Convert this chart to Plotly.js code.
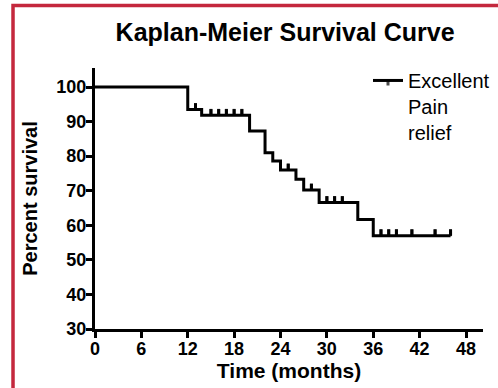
<!DOCTYPE html>
<html><head><meta charset="utf-8">
<script src="https://cdn.plot.ly/plotly-3.0.1.min.js"></script>
<style>html,body{margin:0;padding:0;background:#fff}#chart{width:498px;height:388px}</style>
</head><body><div id="chart"></div><script>
// Kaplan-Meier data (months, percent survival)
const eventTimes    = [0, 12, 13.8, 20, 22, 23, 24, 26, 27, 29, 34, 36];
const eventSurvival = [100, 93.5, 91.8, 87.3, 81.0, 78.6, 76.0, 73.3, 70.2, 66.6, 61.7, 57.0];
const censorTimes   = [13, 15, 16, 17, 18, 19, 25, 28, 30, 31, 32, 37, 38, 39, 41, 44, 46];
const xTicks = [0, 6, 12, 18, 24, 30, 36, 42, 48];
const yTicks = [30, 40, 50, 60, 70, 80, 90, 100];
const seriesName = "Excellent<br>Pain<br>relief";

function survivalAt(t) {
  let s = eventSurvival[0];
  for (let i = 0; i < eventTimes.length; i++) if (eventTimes[i] <= t) s = eventSurvival[i];
  return s;
}
const allTimes = eventTimes.concat(censorTimes).sort((a, b) => a - b);
const allSurv = allTimes.map(survivalAt);
const isCensor = allTimes.map(t => censorTimes.includes(t));
const sizes = isCensor.map(c => c ? 5 : 0);
const tickUp = isCensor.map(c => c ? 1.8 : 0);

const FONT = "Liberation Sans, Arial, sans-serif";
const trace = {
  x: allTimes, y: allSurv, type: "scatter", mode: "lines+markers",
  name: seriesName,
  line: {shape: "hv", color: "#000", width: 3},
  marker: {symbol: "line-ns", size: sizes, angle: 180, standoff: 3, color: "#000", line: {color: "#000", width: 3}},
  error_y: {type: "data", symmetric: false, array: tickUp, arrayminus: tickUp.map(() => 0),
            width: 0, thickness: 3, color: "#000"},
  cliponaxis: false
};

const layout = {
  width: 498, height: 388,
  margin: {l: 95, r: 15, t: 68, b: 59, autoexpand: false},
  paper_bgcolor: "#fff", plot_bgcolor: "#fff",
  font: {family: FONT, color: "#000"},
  title: {text: "<b>Kaplan-Meier Survival Curve</b>", font: {size: 25, family: FONT, color: "#000"},
          x: 0.49, xref: "paper", xanchor: "center", y: 0.9175, yref: "container", yanchor: "middle"},
  xaxis: {
    range: [0, 50.2], tickvals: xTicks, ticktext: xTicks.map(String),
    showline: true, linecolor: "#000", linewidth: 3, mirror: false,
    ticks: "outside", ticklen: 6, tickwidth: 3, tickcolor: "#000",
    ticklabelstandoff: -5,
    showgrid: false, zeroline: false,
    tickfont: {size: 18, family: FONT, color: "#000", weight: "bold"},
    title: {text: "<b>Time (months)</b>", font: {size: 21, family: FONT, color: "#000"}, standoff: 0}
  },
  yaxis: {
    range: [30, 105.5], tickvals: yTicks, ticktext: yTicks.map(String),
    showline: true, linecolor: "#000", linewidth: 3,
    ticks: "outside", ticklen: 6, tickwidth: 3, tickcolor: "#000",
    ticklabelstandoff: -4,
    showgrid: false, zeroline: false,
    tickfont: {size: 18, family: FONT, color: "#000", weight: "bold"},
    title: {text: "<b>Percent survival</b>", font: {size: 20, family: FONT, color: "#000"}, standoff: 14}
  },
  showlegend: true,
  legend: {x: 0.7036, xanchor: "left", y: 1.027, yanchor: "top", valign: "top",
           font: {size: 20, family: FONT, color: "#000"}, bgcolor: "rgba(0,0,0,0)", tracegroupgap: 0},
  shapes: [{
    type: "path", xref: "paper", yref: "paper",
    path: "M -0.2113,-0.35 L -0.2113,1.2395 L 1.2,1.2395",
    line: {color: "#C4283D", width: 3.5}
  }]
};

Plotly.newPlot("chart", [trace], layout, {displayModeBar: false, staticPlot: true});
</script></body></html>
